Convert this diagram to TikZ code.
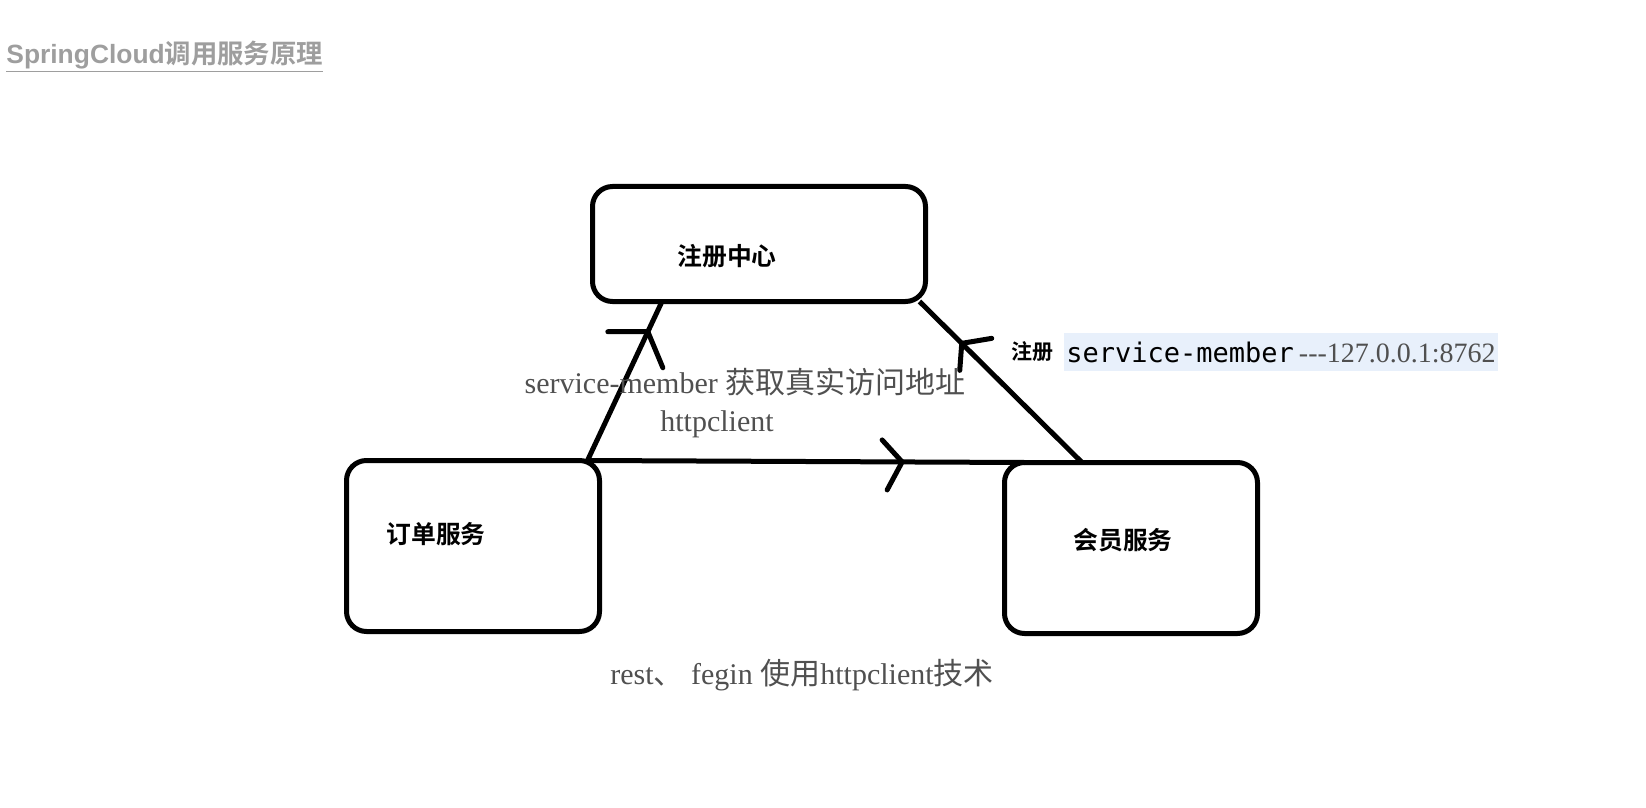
\documentclass[tikz,border=0pt]{standalone}
\usepackage{fontspec}
\setmainfont{Liberation Serif}
\setsansfont{Liberation Sans}
\setmonofont{DejaVu Sans Mono}
\newfontfamily\cjk{Noto Sans CJK SC}
\newfontfamily\cjkbold{Noto Sans CJK SC Bold}
\definecolor{titlegray}{HTML}{9E9E9E}
\definecolor{notegray}{HTML}{505050}
\definecolor{hlblue}{HTML}{E8F0FB}

\begin{document}
\begin{tikzpicture}[x=0.5pt, y=-0.5pt,
  service/.style = {shape=rectangle, rounded corners=10pt,
    draw, line width=2.5pt, inner sep=0pt, outer sep=0pt},
  servicename/.style = {font=\cjkbold\fontsize{12.4}{15}\selectfont},
  note/.style = {text=notegray, font=\fontsize{15}{18}\selectfont},
  link/.style = {line width=2.5pt},
  tick/.style = {line width=2.5pt, line cap=round}]
  \useasboundingbox (0,0) rectangle (1646,808);
  \node[anchor=west, inner sep=0pt, text=titlegray, font=\fontsize{13.2}{15}\selectfont] (title) at (6,57)
    {\underline{\textsf{\bfseries SpringCloud}{\cjkbold 调用服务原理}}};
  \node[service, minimum width=166.5pt, minimum height=57.5pt] (reg) at (759,244) {};
  \node[service, minimum width=126.5pt, minimum height=85.5pt] (order) at (473,546) {};
  \node[service, minimum width=126.5pt, minimum height=85.5pt] (member) at (1131,548) {};
  \node[servicename] (reglabel) at (727,256) {注册中心};
  \node[servicename] (orderlabel) at (436,534) {订单服务};
  \node[servicename] (memberlabel) at (1123,540) {会员服务};
  \draw[link] ([xshift=-6pt]order.north east) -- coordinate[pos=0.81] (fetchtip)
    ([xshift=34.75pt]reg.south west);
  \draw[link] ([xshift=-6pt]order.north east) -- coordinate[pos=0.72] (calltip)
    ([xshift=10pt]member.north west);
  \draw[link] ([xshift=38.75pt]member.north west) -- coordinate[pos=0.74] (registertip)
    ([xshift=-3pt]reg.south east);
  \draw[tick] (fetchtip) ++(-40,0) -- (fetchtip) -- ++(15,36);
  \draw[tick] (calltip) ++(-20,-22) -- (calltip) -- ++(-15,28);
  \draw[tick] (registertip) ++(-2,27) -- (registertip) -- ++(30,-5);
  \node[note] (fetchnote) at (745,382)
    {service-member {\cjk 获取真实访问地址}};
  \node[note] (clientnote) at (717,424) {httpclient};
  \node[note] (technote) at (802,675)
    {rest{\cjk 、} fegin {\cjk 使用}httpclient{\cjk 技术}};
  \node[servicename, font=\cjkbold\fontsize{10.5}{12}\selectfont] (registerlabel) at (1032,352) {注册};
  \node[anchor=west, fill=hlblue, inner sep=1pt, minimum height=19pt] (registernote) at (1064,352)
    {{\ttfamily\fontsize{13.5}{16}\selectfont service-member} {\color{notegray}\fontsize{14}{17}\selectfont -{}-{}-127.0.0.1:8762}};
\end{tikzpicture}
\end{document}
